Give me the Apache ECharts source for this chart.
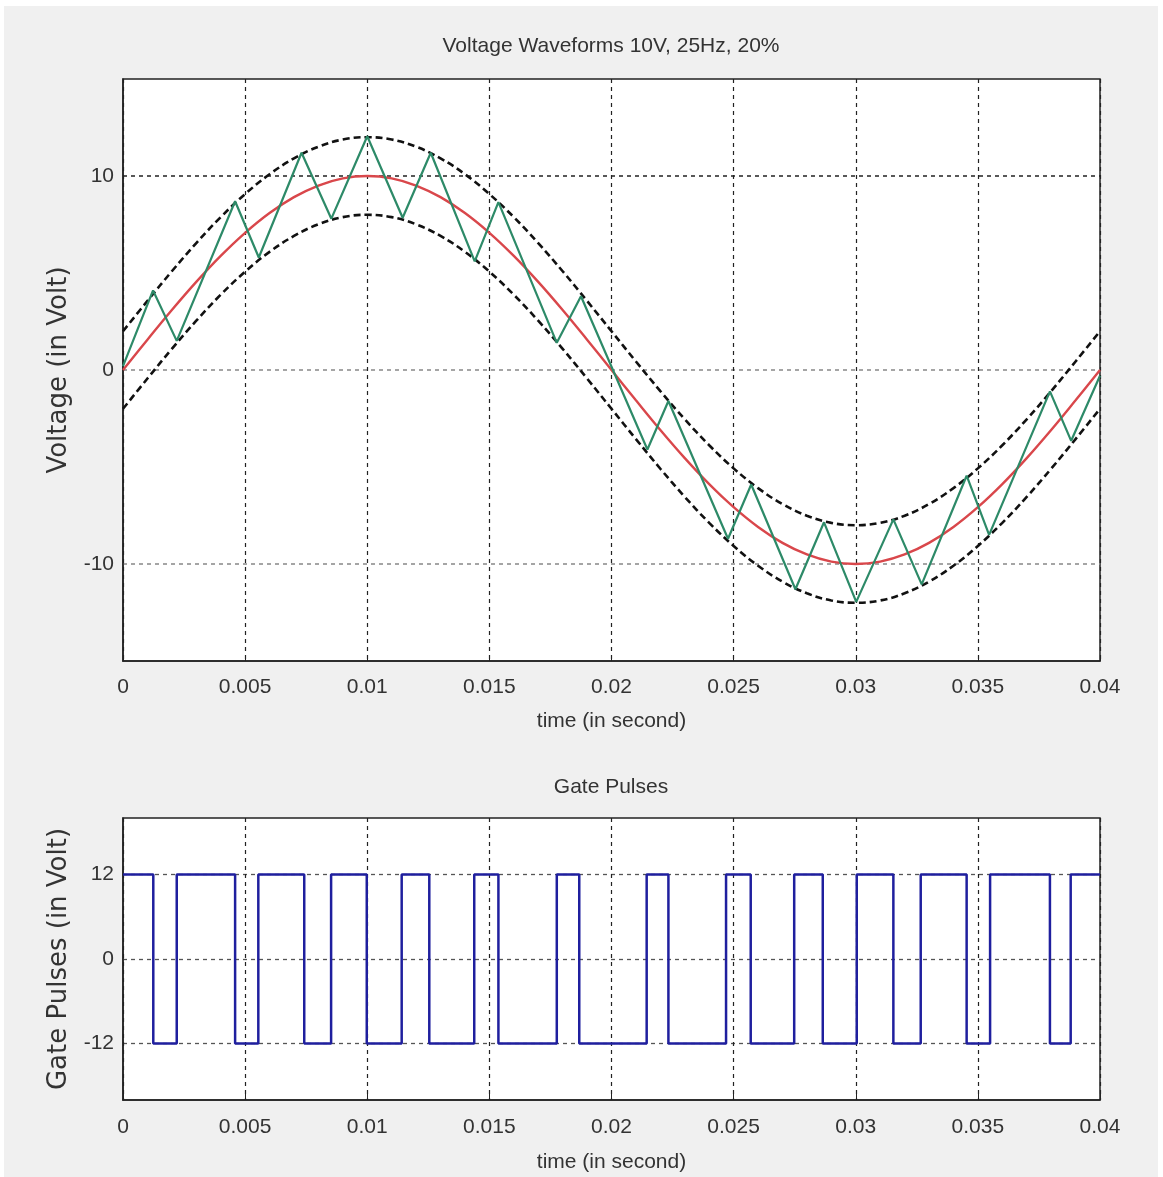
<!DOCTYPE html>
<html>
<head>
<meta charset="utf-8">
<script src="https://cdn.jsdelivr.net/npm/echarts@6/dist/echarts.min.js"></script>
<style>
  html, body { margin: 0; padding: 0; background: #ffffff; }
  #chart { position: absolute; left: 4px; top: 6px; width: 1154px; height: 1171px; background: #f0f0f0; }
</style>
</head>
<body>
<div id="chart"></div>
<script>
// ---- Data ----
// Reference sine (red), sampled every 1 ms (time in seconds)
const refTime = [0, 0.001, 0.002, 0.003, 0.004, 0.005, 0.006, 0.007, 0.008, 0.009, 0.010,
  0.011, 0.012, 0.013, 0.014, 0.015, 0.016, 0.017, 0.018, 0.019, 0.020,
  0.021, 0.022, 0.023, 0.024, 0.025, 0.026, 0.027, 0.028, 0.029, 0.030,
  0.031, 0.032, 0.033, 0.034, 0.035, 0.036, 0.037, 0.038, 0.039, 0.040];
const refVolt = [0, 1.56, 3.09, 4.54, 5.88, 7.07, 8.09, 8.91, 9.51, 9.88, 10,
  9.88, 9.51, 8.91, 8.09, 7.07, 5.88, 4.54, 3.09, 1.56, 0,
  -1.56, -3.09, -4.54, -5.88, -7.07, -8.09, -8.91, -9.51, -9.88, -10,
  -9.88, -9.51, -8.91, -8.09, -7.07, -5.88, -4.54, -3.09, -1.56, 0];
// Upper and lower hysteresis bands (black dashed)
const upperBand = [2, 3.56, 5.09, 6.54, 7.88, 9.07, 10.09, 10.91, 11.51, 11.88, 12,
  11.88, 11.51, 10.91, 10.09, 9.07, 7.88, 6.54, 5.09, 3.56, 2,
  0.44, -1.09, -2.54, -3.88, -5.07, -6.09, -6.91, -7.51, -7.88, -8,
  -7.88, -7.51, -6.91, -6.09, -5.07, -3.88, -2.54, -1.09, 0.44, 2];
const lowerBand = [-2, -0.44, 1.09, 2.54, 3.88, 5.07, 6.09, 6.91, 7.51, 7.88, 8,
  7.88, 7.51, 6.91, 6.09, 5.07, 3.88, 2.54, 1.09, -0.44, -2,
  -3.56, -5.09, -6.54, -7.88, -9.07, -10.09, -10.91, -11.51, -11.88, -12,
  -11.88, -11.51, -10.91, -10.09, -9.07, -7.88, -6.54, -5.09, -3.56, -2];
// Actual (green) zig-zag waveform vertices
const actTime = [0, 0.00123, 0.0022, 0.00459, 0.00556, 0.00731, 0.00853, 0.01, 0.01145, 0.0126,
  0.0144, 0.01537, 0.01776, 0.01875, 0.02147, 0.02233, 0.02477, 0.02572, 0.02753, 0.0287,
  0.03002, 0.03154, 0.0327, 0.03454, 0.03546, 0.03795, 0.03882, 0.04];
const actVolt = [0.2, 4.1, 1.5, 8.7, 5.8, 11.2, 7.8, 12.05, 7.85, 11.2,
  5.6, 8.65, 1.4, 3.8, -4.1, -1.6, -8.7, -5.9, -11.3, -7.85,
  -11.95, -7.7, -11.05, -5.45, -8.5, -1.1, -3.65, -0.3];
// Gate pulses (blue), level held from each time to the next
const gateTime = [0, 0.00124, 0.0022, 0.00459, 0.00554, 0.00742, 0.00852, 0.00998, 0.01141, 0.01254,
  0.01438, 0.01537, 0.01776, 0.01868, 0.02144, 0.02233, 0.02469, 0.0257, 0.02748, 0.02865,
  0.03004, 0.03154, 0.03266, 0.03454, 0.0355, 0.03795, 0.0388, 0.04];
const gateVolt = [12, -12, 12, -12, 12, -12, 12, -12, 12, -12,
  12, -12, 12, -12, 12, -12, 12, -12, 12, -12,
  12, -12, 12, -12, 12, -12, 12, 12];
const xTicks = [0, 0.005, 0.01, 0.015, 0.02, 0.025, 0.03, 0.035, 0.04];
const voltLabels = [-10, 0, 10];
const gateLabels = [-12, 0, 12];

const titles = ['Voltage Waveforms 10V, 25Hz, 20%', 'Gate Pulses'];
const xName = 'time (in second)';
const yNames = ['Voltage (in Volt)', 'Gate Pulses (in Volt)'];

// ---- Chart ----
const FONT = "'Liberation Sans', Arial, Helvetica, sans-serif";
const WIDE = "'DejaVu Sans', Verdana, sans-serif";
const T = 'rgba(0,0,0,0)';

function pairs(xs, ys) { return xs.map((x, i) => [x, ys[i]]); }
function xLabelFmt(v) {
  for (const t of xTicks) { if (Math.abs(v - t) < 1e-9) return String(t); }
  return '';
}

function makeX(gridIndex) {
  return {
    type: 'value', gridIndex: gridIndex, min: 0, max: 0.04, interval: 0.005,
    name: xName, nameLocation: 'middle', nameGap: gridIndex === 0 ? 50 : 52,
    nameTextStyle: { fontFamily: FONT, fontSize: 21, color: '#333' },
    axisLine: { show: true, onZero: false, lineStyle: { color: '#222', width: 1.5 } },
    axisTick: { show: true, inside: true, length: 6, lineStyle: { color: '#222' } },
    axisLabel: { margin: gridIndex === 0 ? 16 : 17, fontFamily: FONT, fontSize: 21, color: '#333', formatter: xLabelFmt, showMinLabel: true, showMaxLabel: true },
    splitLine: { show: true, lineStyle: { color: '#222', width: 1.2, type: [4, 4] } }
  };
}

const option = {
  animation: false,
  backgroundColor: '#f0f0f0',
  graphic: [
    { type: 'text', x: 607, y: 40, style: { text: titles[0], fontFamily: FONT, fontSize: 21, fill: '#333', textAlign: 'center', textVerticalAlign: 'middle' } },
    { type: 'text', x: 607, y: 781, style: { text: titles[1], fontFamily: FONT, fontSize: 21, fill: '#333', textAlign: 'center', textVerticalAlign: 'middle' } }
  ],
  grid: [
    { left: 119, top: 73, width: 977, height: 582, show: true, backgroundColor: '#ffffff', borderColor: '#222', borderWidth: 1.5 },
    { left: 119, top: 812, width: 977, height: 282, show: true, backgroundColor: '#ffffff', borderColor: '#222', borderWidth: 1.5 }
  ],
  xAxis: [makeX(0), makeX(1)],
  yAxis: [
    {
      type: 'value', gridIndex: 0, min: -15, max: 15, interval: 5,
      name: yNames[0], nameLocation: 'middle', nameGap: 44, nameRotate: 90,
      nameTextStyle: { fontFamily: WIDE, fontSize: 26, color: '#333' },
      axisLine: { show: true, onZero: false, lineStyle: { color: '#222', width: 1.5 } },
      axisTick: { show: false },
      axisLabel: { margin: 9, fontFamily: FONT, fontSize: 21, color: '#333',
        formatter: v => (voltLabels.indexOf(v) >= 0 ? String(v) : '') },
      splitLine: { show: true, lineStyle: { width: 1.5, type: [4, 4],
        color: [T, '#888', T, '#888', T, '#222', T] } }
    },
    {
      type: 'value', gridIndex: 1, min: -20, max: 20, interval: 4,
      name: yNames[1], nameLocation: 'middle', nameGap: 44, nameRotate: 90,
      nameTextStyle: { fontFamily: WIDE, fontSize: 26, color: '#333' },
      axisLine: { show: true, onZero: false, lineStyle: { color: '#222', width: 1.5 } },
      axisTick: { show: false },
      axisLabel: { margin: 9, fontFamily: FONT, fontSize: 21, color: '#333',
        formatter: v => (gateLabels.indexOf(v) >= 0 ? String(v) : '') },
      splitLine: { show: true, lineStyle: { width: 1.3, type: [4, 4],
        color: [T, T, '#555', T, T, '#555', T, T, '#555', T, T] } }
    }
  ],
  series: [
    { name: 'Upper band', type: 'line', xAxisIndex: 0, yAxisIndex: 0, data: pairs(refTime, upperBand),
      smooth: 0.4, showSymbol: false, lineStyle: { color: '#111', width: 2.6, type: [7, 4] }, z: 3 },
    { name: 'Lower band', type: 'line', xAxisIndex: 0, yAxisIndex: 0, data: pairs(refTime, lowerBand),
      smooth: 0.4, showSymbol: false, lineStyle: { color: '#111', width: 2.6, type: [7, 4] }, z: 3 },
    { name: 'Reference', type: 'line', xAxisIndex: 0, yAxisIndex: 0, data: pairs(refTime, refVolt),
      smooth: 0.4, showSymbol: false, lineStyle: { color: '#d9474b', width: 2.4 }, z: 4 },
    { name: 'Actual', type: 'line', xAxisIndex: 0, yAxisIndex: 0, data: pairs(actTime, actVolt),
      showSymbol: false, lineStyle: { color: '#2d8a68', width: 2.2 }, z: 5 },
    { name: 'Gate', type: 'line', xAxisIndex: 1, yAxisIndex: 1, data: pairs(gateTime, gateVolt),
      step: 'end', showSymbol: false, lineStyle: { color: '#1f1f9e', width: 2.5 }, z: 5 }
  ]
};

const chart = echarts.init(document.getElementById('chart'), null, { renderer: 'canvas' });
chart.setOption(option);
</script>
</body>
</html>
